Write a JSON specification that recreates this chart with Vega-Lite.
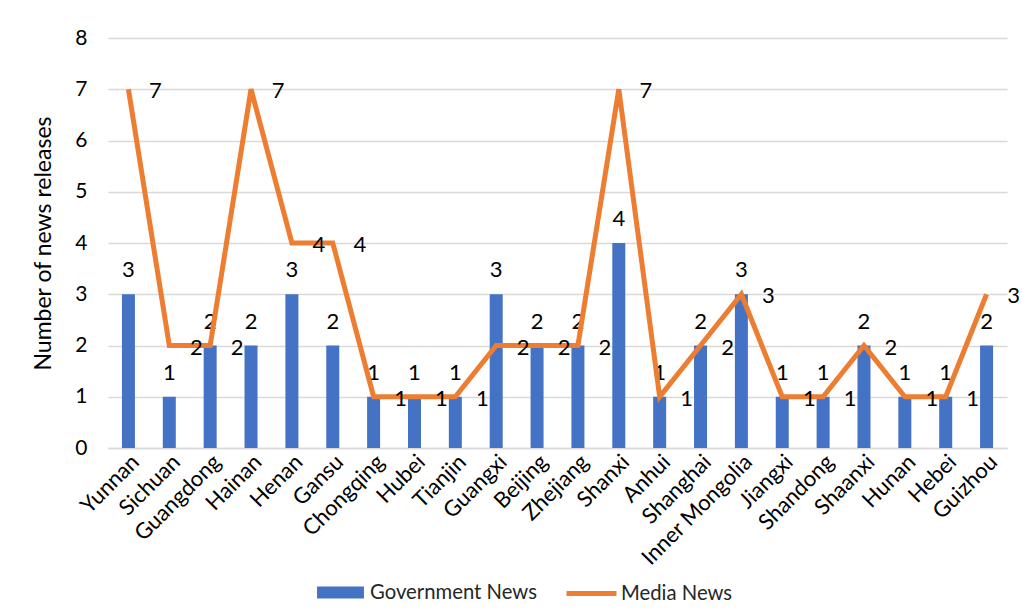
{
  "$schema": "https://vega.github.io/schema/vega-lite/v6.json",
  "width": 899,
  "height": 410,
  "autosize": {"type": "none"},
  "padding": {"left": 108, "top": 38, "right": 15, "bottom": 168},
  "background": "white",
  "config": {
    "font": "Lato",
    "view": {"stroke": null},
    "axis": {"labelColor": "#000000", "titleColor": "#000000"}
  },
  "data": {
    "values": [
      {"province": "Yunnan", "gov": 3, "media": 7},
      {"province": "Sichuan", "gov": 1, "media": 2},
      {"province": "Guangdong", "gov": 2, "media": 2},
      {"province": "Hainan", "gov": 2, "media": 7},
      {"province": "Henan", "gov": 3, "media": 4},
      {"province": "Gansu", "gov": 2, "media": 4},
      {"province": "Chongqing", "gov": 1, "media": 1},
      {"province": "Hubei", "gov": 1, "media": 1},
      {"province": "Tianjin", "gov": 1, "media": 1},
      {"province": "Guangxi", "gov": 3, "media": 2},
      {"province": "Beijing", "gov": 2, "media": 2},
      {"province": "Zhejiang", "gov": 2, "media": 2},
      {"province": "Shanxi", "gov": 4, "media": 7},
      {"province": "Anhui", "gov": 1, "media": 1},
      {"province": "Shanghai", "gov": 2, "media": 2},
      {"province": "Inner Mongolia", "gov": 3, "media": 3},
      {"province": "Jiangxi", "gov": 1, "media": 1},
      {"province": "Shandong", "gov": 1, "media": 1},
      {"province": "Shaanxi", "gov": 2, "media": 2},
      {"province": "Hunan", "gov": 1, "media": 1},
      {"province": "Hebei", "gov": 1, "media": 1},
      {"province": "Guizhou", "gov": 2, "media": 3}
    ]
  },
  "encoding": {
    "x": {
      "field": "province",
      "type": "nominal",
      "sort": null,
      "scale": {"paddingInner": 0, "paddingOuter": 0},
      "axis": {
        "title": null,
        "labelAngle": -45,
        "labelFontSize": 22,
        "labelPadding": 3,
        "labelLimit": 300,
        "ticks": false,
        "domainColor": "#d9d9d9",
        "domainWidth": 1.5,
        "grid": false
      }
    }
  },
  "layer": [
    {
      "mark": {"type": "bar", "size": 13},
      "encoding": {
        "y": {
          "field": "gov",
          "type": "quantitative",
          "scale": {"domain": [0, 8]},
          "axis": {
            "title": "Number of news releases",
            "titleFontSize": 23,
            "titleFontWeight": "normal",
            "titlePadding": 19,
            "values": [0, 1, 2, 3, 4, 5, 6, 7, 8],
            "labelFontSize": 21,
            "labelPadding": 21,
            "domain": false,
            "ticks": false,
            "grid": true,
            "gridColor": "#d9d9d9",
            "gridWidth": 1.5
          }
        },
        "fill": {
          "datum": "Government News",
          "scale": {"range": ["#4472C4"]},
          "legend": {
            "title": null,
            "orient": "none",
            "legendX": 209,
            "legendY": 531,
            "symbolType": "M-1,-0.26H1V0.26H-1Z",
            "symbolSize": 2200,
            "symbolStrokeWidth": 0,
            "labelFontSize": 20.3,
            "labelLimit": 400,
            "labelColor": "#262626",
            "labelOffset": 6
          }
        }
      }
    },
    {
      "mark": {"type": "text", "fontSize": 22, "dy": -24, "color": "#000000"},
      "encoding": {
        "y": {"field": "gov", "type": "quantitative", "title": "Number of news releases"},
        "text": {"field": "gov", "type": "quantitative"}
      }
    },
    {
      "mark": {"type": "line", "strokeWidth": 5},
      "encoding": {
        "y": {"field": "media", "type": "quantitative", "title": "Number of news releases"},
        "stroke": {
          "datum": "Media News",
          "scale": {"range": ["#ED7D31"]},
          "legend": {
            "title": null,
            "orient": "none",
            "legendX": 456,
            "legendY": 528,
            "symbolType": "stroke",
            "symbolSize": 2500,
            "symbolStrokeWidth": 5,
            "labelFontSize": 20.3,
            "labelLimit": 400,
            "labelColor": "#262626",
            "labelOffset": 2
          }
        }
      }
    },
    {
      "mark": {"type": "text", "fontSize": 22, "dx": 27, "dy": 2, "color": "#000000"},
      "encoding": {
        "y": {"field": "media", "type": "quantitative", "title": "Number of news releases"},
        "text": {"field": "media", "type": "quantitative"}
      }
    }
  ]
}
